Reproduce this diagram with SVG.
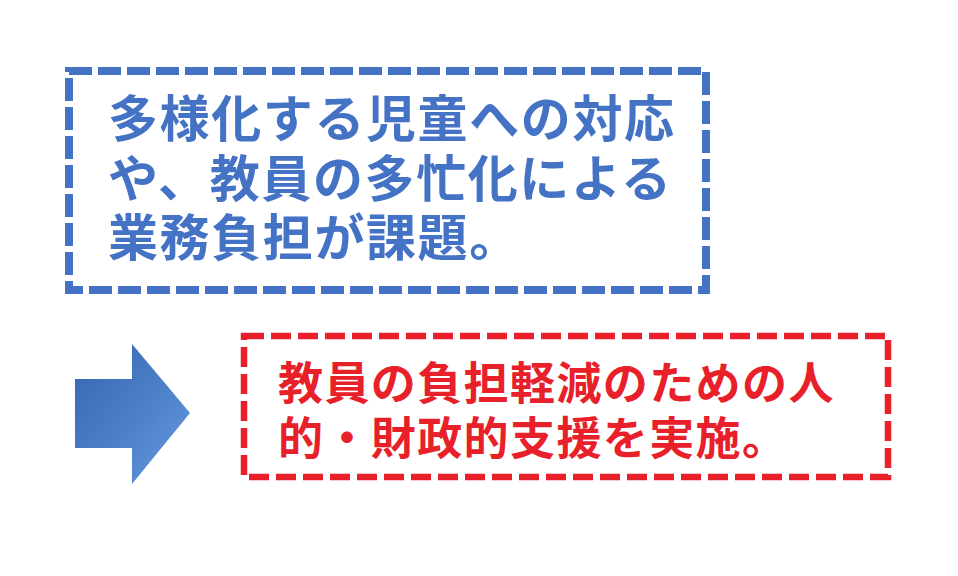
<svg xmlns="http://www.w3.org/2000/svg" width="958" height="576" viewBox="0 0 958 576">
<defs>
<linearGradient id="arrowGrad" x1="0" y1="0" x2="1" y2="1">
<stop offset="0" stop-color="#3466b0"/>
<stop offset="0.6" stop-color="#4f83cc"/>
<stop offset="1" stop-color="#6a9ddd"/>
</linearGradient>
</defs>
<style>
.blue-box{fill:none;stroke:#4472c4;stroke-width:8;stroke-dasharray:23 6}
.red-box{fill:none;stroke:#e8202a;stroke-width:6.5;stroke-dasharray:20 7}
.t{font-family:"Noto Sans CJK JP","Noto Sans CJK SC",sans-serif;font-weight:700}
.tb{fill:#4472c4;font-size:50px;letter-spacing:1.6px}
.tr{fill:#e8202a;font-size:45px;letter-spacing:1.4px}
</style>
<rect width="958" height="576" fill="#ffffff"/>
<g id="problem">
<rect class="blue-box" x="69" y="71" width="637" height="219"/>
<text class="t tb" x="108" y="137"><tspan x="108" y="137">多様化する児童への対応</tspan><tspan x="108" y="197">や、教員の多忙化による</tspan><tspan x="108" y="256">業務負担が課題。</tspan></text>
</g>
<g id="connectors">
<polygon points="75,379 132,379 132,344 190,413 132,484 132,448 75,448" fill="url(#arrowGrad)"/>
</g>
<g id="solution">
<rect class="red-box" x="244" y="336" width="644" height="141"/>
<text class="t tr" x="278" y="400"><tspan x="278" y="400">教員の負担軽減のための人</tspan><tspan x="278" y="455">的・財政的支援を実施。</tspan></text>
</g>
</svg>
